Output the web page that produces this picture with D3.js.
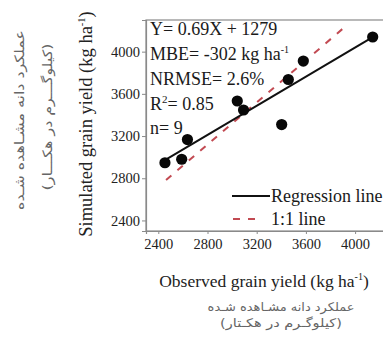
<!DOCTYPE html>
<html>
<head>
<meta charset="utf-8">
<script src="https://cdn.jsdelivr.net/npm/d3@7"></script>
<style>
  html, body { margin: 0; padding: 0; background: #fff; }
  svg { display: block; }
  .serif, .serif text { font-family: "Liberation Serif", "DejaVu Serif", serif !important; }
</style>
</head>
<body>
<svg id="chart" width="383" height="341"></svg>
<script>
// Observed vs simulated grain yield (kg/ha)
const observed  = [2454, 2590, 2637, 3042, 3093, 3403, 3457, 3579, 4143];
const simulated = [2947, 2980, 3167, 3532, 3447, 3309, 3736, 3911, 4139];

// Fitted regression: Y = 0.69X + 1279
const regSlope = 0.69;
const regIntercept = 1279;

// Reference line end points
const refLineObs = [2463, 3918];
const refLineSim = [2783, 4236];

const xTickValues = [2400, 2800, 3200, 3600, 4000];
const yTickValues = [2400, 2800, 3200, 3600, 4000];

const statLines = ["Y= 0.69X + 1279", "MBE= -302 kg ha", "NRMSE= 2.6%", "R", "n= 9"];

const legendLabels = ["Regression line", "1:1 line"];

const faXLines = ["عملکرد دانه مشـاهده شـده", "(کیلوگـرم در هکـتار)"];
const faYLines = ["عملکرد دانه مشـاهده شـده", "(کیلوگـــرم در هکـــار)"];

const svg = d3.select("#chart");
const frameColor = "#8a8a8a";

const x = d3.scaleLinear().domain([2300, 4300]).range([146, 392]);
const y = d3.scaleLinear().domain([2300, 4300]).range([231, 20]);

// Plot frame
svg.append("rect")
  .attr("x", x(2300)).attr("y", y(4300))
  .attr("width", x(4300) - x(2300)).attr("height", y(2300) - y(4300))
  .attr("fill", "none").attr("stroke", frameColor).attr("stroke-width", 1.2);

// Axes
const fmt = d3.format("d");
const xAxis = d3.axisBottom(x).tickValues(xTickValues).tickFormat(fmt).tickSize(3).tickPadding(5);
const yAxis = d3.axisLeft(y).tickValues(yTickValues).tickFormat(fmt).tickSize(4).tickPadding(2);

const gx = svg.append("g").attr("transform", `translate(0,${y(2300)})`).call(xAxis);
const gy = svg.append("g").attr("transform", `translate(${x(2300)},0)`).call(yAxis);
[gx, gy].forEach(g => {
  g.attr("class", "serif").attr("font-size", 14.5);
  g.select(".domain").attr("stroke", frameColor).attr("stroke-width", 1.2);
  g.selectAll(".tick line").attr("stroke", frameColor);
  g.selectAll(".tick text").attr("fill", "#222");
});

// 1:1 reference line
svg.append("line")
  .attr("x1", x(refLineObs[0])).attr("y1", y(refLineSim[0]))
  .attr("x2", x(refLineObs[1])).attr("y2", y(refLineSim[1]))
  .attr("stroke", "#c24a52").attr("stroke-width", 2)
  .attr("stroke-dasharray", "7,8");

// Regression line across the observed range
const xr = d3.extent(observed);
svg.append("line")
  .attr("x1", x(xr[0])).attr("y1", y(regSlope * xr[0] + regIntercept))
  .attr("x2", x(xr[1])).attr("y2", y(regSlope * xr[1] + regIntercept))
  .attr("stroke", "#111").attr("stroke-width", 2);

// Points
svg.append("g").selectAll("circle")
  .data(observed.map((o, i) => [o, simulated[i]]))
  .join("circle")
  .attr("cx", d => x(d[0])).attr("cy", d => y(d[1]))
  .attr("r", 5.6).attr("fill", "#080808");

// Statistics block
const stats = svg.append("g").attr("class", "serif")
  .attr("font-size", 18).attr("fill", "#1a1a1a");
const baselines = [35, 60, 85, 110, 134];
statLines.forEach((s, i) => {
  const t = stats.append("text").attr("x", 150).attr("y", baselines[i]);
  if (i === 1) {
    t.append("tspan").text(s);
    t.append("tspan").attr("font-size", 10).attr("dy", -7).text("-1");
  } else if (i === 3) {
    t.append("tspan").text(s);
    t.append("tspan").attr("font-size", 11).attr("dy", -7).text("2");
    t.append("tspan").attr("dy", 7).text("= 0.85");
  } else {
    t.text(s);
  }
});

// Legend
const leg = svg.append("g").attr("class", "serif").attr("font-size", 18).attr("fill", "#1a1a1a");
leg.append("line").attr("x1", 232).attr("x2", 270).attr("y1", 196).attr("y2", 196)
  .attr("stroke", "#111").attr("stroke-width", 2);
leg.append("text").attr("x", 271).attr("y", 202).text(legendLabels[0]);
leg.append("line").attr("x1", 233).attr("x2", 262).attr("y1", 219).attr("y2", 219)
  .attr("stroke", "#c24a52").attr("stroke-width", 2).attr("stroke-dasharray", "7,8");
leg.append("text").attr("x", 271).attr("y", 225).text(legendLabels[1]);

// Axis titles
const xt = svg.append("text").attr("class", "serif")
  .attr("x", 264).attr("y", 287).attr("text-anchor", "middle")
  .attr("font-size", 17.5).attr("fill", "#222");
xt.append("tspan").text("Observed grain yield (kg ha");
xt.append("tspan").attr("font-size", 10).attr("dy", -7).text("-1");
xt.append("tspan").attr("dy", 7).text(")");

const yt = svg.append("text").attr("class", "serif")
  .attr("transform", "translate(92,124) rotate(-90)").attr("text-anchor", "middle")
  .attr("font-size", 18.5).attr("fill", "#222");
yt.append("tspan").text("Simulated grain yield (kg ha");
yt.append("tspan").attr("font-size", 10.5).attr("dy", -7).text("-1");
yt.append("tspan").attr("dy", 7).text(")");

// Persian captions, stretched horizontally to their set widths
const faFont = "'DejaVu Sans', 'Noto Sans', sans-serif";
function fitText(sel, width) {
  const w = sel.node().getComputedTextLength();
  sel.attr("transform", (sel.attr("transform") || "") + ` scale(${width / w},1)`);
}
faXLines.forEach((s, i) => {
  const t = svg.append("text")
    .attr("transform", `translate(281,${[311, 327][i]})`)
    .attr("text-anchor", "middle").attr("direction", "rtl")
    .attr("font-family", faFont).attr("font-size", 12).attr("fill", "#666")
    .text(s);
  fitText(t, [147, 122][i]);
});
faYLines.forEach((s, i) => {
  const t = svg.append("text")
    .attr("transform", `translate(${[24, 52][i]},${[120, 117][i]}) rotate(-90)`)
    .attr("text-anchor", "middle").attr("direction", "rtl")
    .attr("font-family", faFont).attr("font-size", 13).attr("fill", "#666")
    .text(s);
  fitText(t, [180, 147][i]);
});
</script>
</body>
</html>
